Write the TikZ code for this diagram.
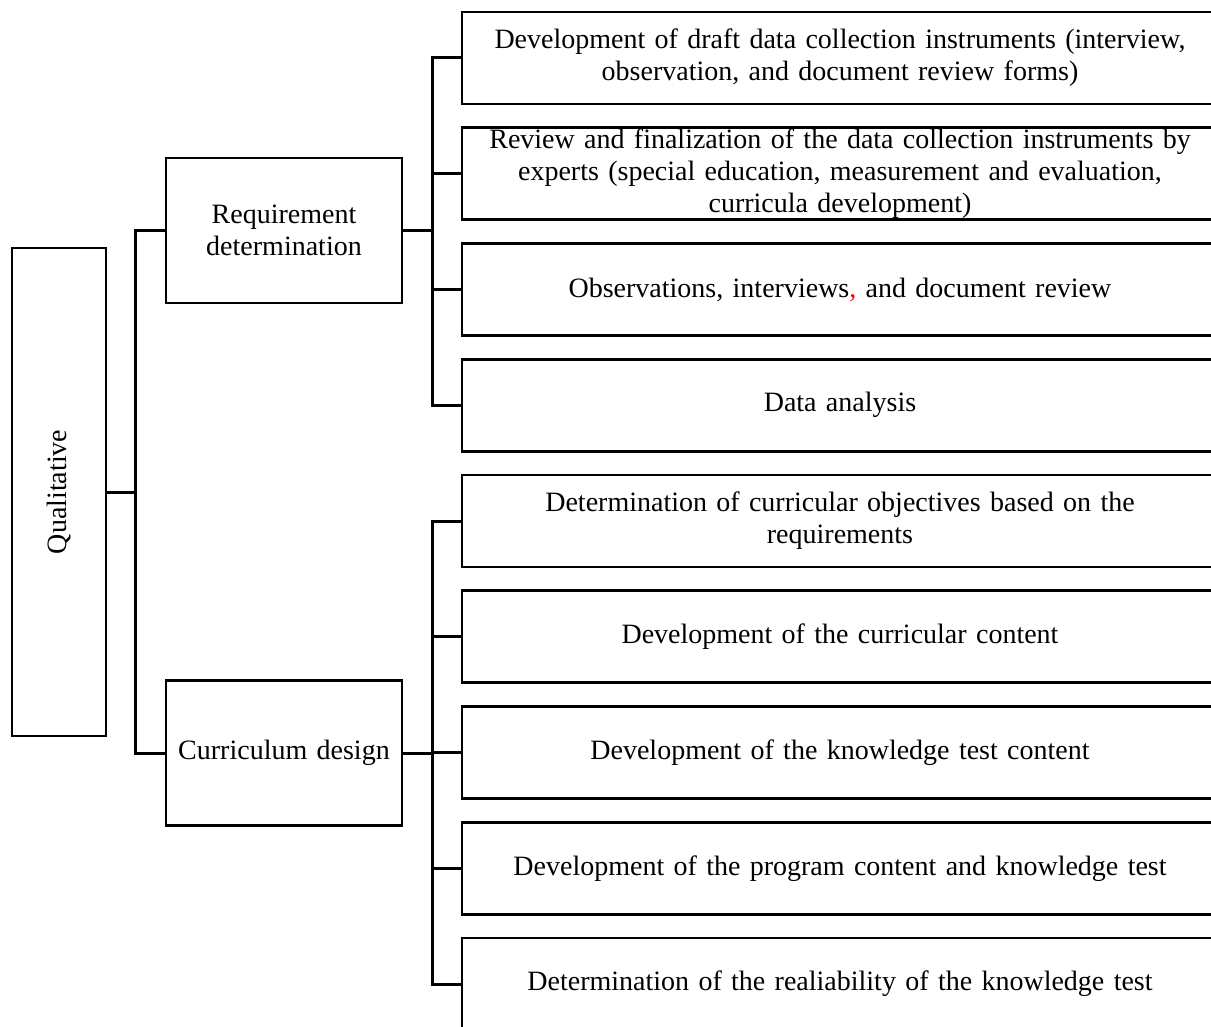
\documentclass[tikz,border=0pt]{standalone}
\usepackage{fontspec}
\setmainfont{Liberation Serif}
\begin{document}
\begin{tikzpicture}[x=1pt,y=-1pt,
  every node/.style={font=\fontsize{28}{32}\selectfont},
  box/.style={draw,line width=2.6pt,rectangle,inner sep=0pt,align=center},
  wide/.style={box,minimum width=756pt,minimum height=92pt,text width=745pt},
  mid/.style={box,minimum width=236pt,minimum height=145pt,text width=236pt},
  link/.style={line width=3pt}]
\clip (0,0) rectangle (1211,1027);
\fill[white] (0,0) rectangle (1211,1027);
% left box
\node[box,minimum width=94pt,minimum height=488pt] (q) at (59,492) {};
\node[rotate=90] (qt) at (q.center) {Qualitative};
% middle boxes
\node[mid] (req) at (284,230.5) {Requirement\\determination};
\node[mid] (cur) at (284,753) {Curriculum design};
% right boxes
\node[wide] (b1) at (840,58) {Development of draft data collection instruments (interview,\\observation, and document review forms)};
\node[wide] (b2) at (840,173.75) {Review and finalization of the data collection instruments by\\experts (special education, measurement and evaluation,\\curricula development)};
\node[wide] (b3) at (840,289.5) {Observations, interviews{\color{red},} and document review};
\node[wide] (b4) at (840,405.25) {Data analysis};
\node[wide] (b5) at (840,521) {Determination of curricular objectives based on the\\requirements};
\node[wide] (b6) at (840,636.75) {Development of the curricular content};
\node[wide] (b7) at (840,752.5) {Development of the knowledge test content};
\node[wide] (b8) at (840,868.25) {Development of the program content and knowledge test};
\node[wide] (b9) at (840,984) {Determination of the realiability of the knowledge test};
% junction coordinates
\coordinate (qj) at (135,492);
\coordinate (rj) at (432,0);
% connectors
\draw[link] (q.east) -- (qj);
\draw[link] (req.west) -- (req.west -| qj) -- (cur.west -| qj) -- (cur.west);
\draw[link] (req.east) -- (req.east -| rj);
\draw[link] (b1.west) -- (b1.west -| rj) -- (b4.west -| rj) -- (b4.west);
\draw[link] (b2.west -| rj) -- (b2.west);
\draw[link] (b3.west -| rj) -- (b3.west);
\draw[link] (cur.east) -- (cur.east -| rj);
\draw[link] (b5.west) -- (b5.west -| rj) -- (b9.west -| rj) -- (b9.west);
\draw[link] (b6.west -| rj) -- (b6.west);
\draw[link] (b7.west -| rj) -- (b7.west);
\draw[link] (b8.west -| rj) -- (b8.west);
\end{tikzpicture}
\end{document}
